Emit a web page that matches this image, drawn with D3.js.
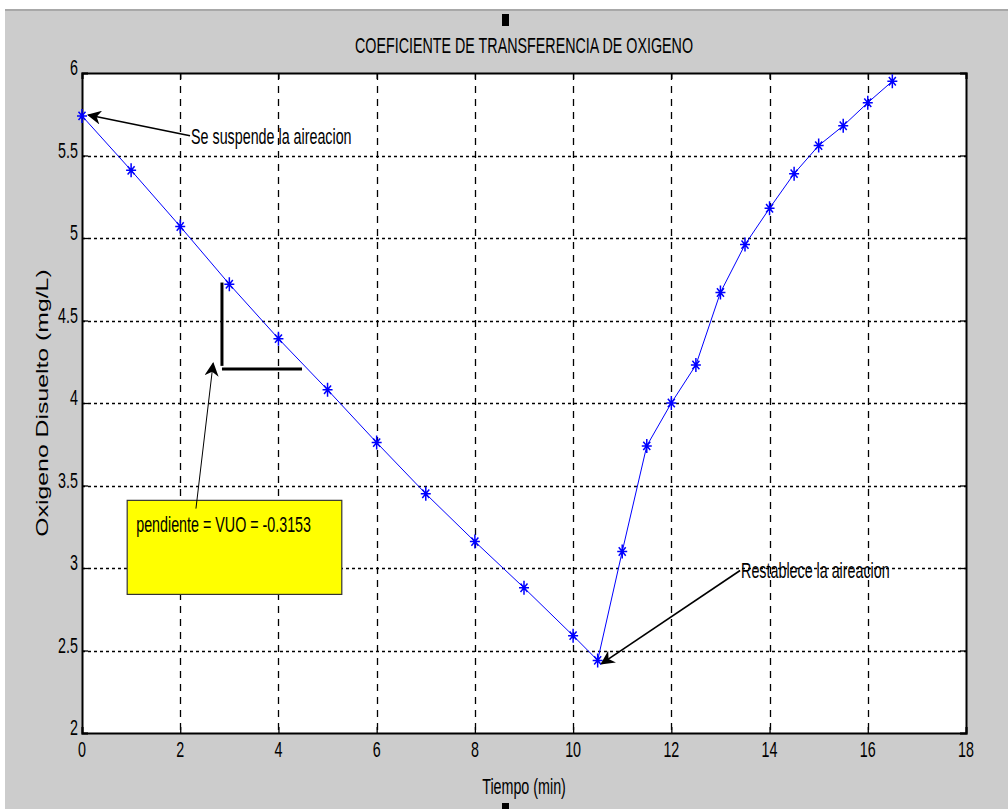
<!DOCTYPE html>
<html>
<head>
<meta charset="utf-8">
<script src="https://cdn.jsdelivr.net/npm/d3@7/dist/d3.min.js"></script>
<style>
body{
margin:0;
background:white;
}
text{
font-family:"Liberation Sans",Arial,sans-serif;
}
</style>
</head>
<body>
<div id="chart"></div>
<script>
// data
var tiempo = [0,1,2,3,4,5,6,7,8,9,10,10.5,11,11.5,12,12.5,13,13.5,14,14.5,15,15.5,16,16.5]
var oxigeno = [5.74,5.41,5.07,4.72,4.39,4.08,3.76,3.45,3.16,2.88,2.59,2.44,3.10,3.74,4.00,4.23,4.67,4.96,5.18,5.39,5.56,5.68,5.82,5.95]
var xTicks = [0,2,4,6,8,10,12,14,16,18]
var yTicks = [2,2.5,3,3.5,4,4.5,5,5.5,6]
var titleText = "COEFICIENTE DE TRANSFERENCIA DE OXIGENO"
var xLabel = "Tiempo (min)"
var yLabel = "Oxigeno Disuelto (mg/L)"
var slopeText = "pendiente = VUO = -0.3153"
// annotation arrows: from [x,y] to [x,y] in data units
var annotations = [
{text:"Se suspende la aireacion", from:[2.2,5.62], to:[0.13,5.745]},
{text:"Restablece la aireacion", from:[13.4,2.985], to:[10.58,2.42]}
]
var slopeArrow = {from:[2.32,3.36], to:[2.67,4.24]}
var triangle = {x0:2.85, x1:4.48, yTop:4.73, yBase:4.225}
var box = {x0:0.92, x1:5.29, y0:3.41, y1:2.84}

var W = 1008, H = 809
var blue = "#0000ff"
var fs = 22 // font size of the squeezed labels
var sq = 0.65 // horizontal squeeze

var svg = d3.select("#chart")
.append("svg")
.attr("width",W)
.attr("height",H)

// figure background
svg.append("rect").attr("x",0).attr("y",0).attr("width",W).attr("height",H).attr("fill","white")
svg.append("rect").attr("x",5).attr("y",9).attr("width",W-5).attr("height",2).attr("fill","#a8a8a8")
svg.append("rect").attr("x",5).attr("y",11).attr("width",W-5).attr("height",H-11).attr("fill","#cccccc")

var pLeft = 82, pRight = 966, pTop = 73, pBottom = 733

var x = d3.scaleLinear().domain([0,18]).range([pLeft,pRight])
var y = d3.scaleLinear().domain([2,6]).range([pBottom,pTop])

// squeezed text helper
function narrowText(px,py,str,anchor){
var g = svg.append("g").attr("transform","translate("+px+","+py+") scale("+sq+",1)")
g.append("text")
.attr("text-anchor",anchor||"start")
.attr("font-size",fs)
.attr("fill","#000")
.text(str)
return g
}

// plot area
svg.append("rect")
.attr("x",pLeft).attr("y",pTop)
.attr("width",pRight-pLeft).attr("height",pBottom-pTop)
.attr("fill","white")

// grid
svg.selectAll(".vgrid")
.data(xTicks.slice(1,-1))
.enter()
.append("line")
.attr("x1",function(d){return Math.round(x(d))+0.5})
.attr("x2",function(d){return Math.round(x(d))+0.5})
.attr("y1",pTop).attr("y2",pBottom)
.attr("stroke","#000")
.attr("stroke-width",1.3)
.attr("stroke-dasharray","7,6")

svg.selectAll(".hgrid")
.data(yTicks.slice(1,-1))
.enter()
.append("line")
.attr("y1",function(d){return Math.round(y(d))+0.5})
.attr("y2",function(d){return Math.round(y(d))+0.5})
.attr("x1",pLeft).attr("x2",pRight)
.attr("stroke","#000")
.attr("stroke-width",1.6)
.attr("stroke-dasharray","3,3")

// axes (labels drawn separately so they can be squeezed)
var xAxis = d3.axisBottom(x).tickValues(xTicks).tickSize(-6).tickFormat("")
var yAxis = d3.axisLeft(y).tickValues(yTicks).tickSize(-6).tickFormat("")
var xTop = d3.axisTop(x).tickValues(xTicks).tickSize(-6).tickFormat("")
var yRight = d3.axisRight(y).tickValues(yTicks).tickSize(-6).tickFormat("")

svg.append("g").attr("transform","translate(0,"+pBottom+")").call(xAxis)
svg.append("g").attr("transform","translate("+pLeft+",0)").call(yAxis)
svg.append("g").attr("transform","translate(0,"+pTop+")").call(xTop)
svg.append("g").attr("transform","translate("+pRight+",0)").call(yRight)

svg.selectAll(".domain").attr("stroke","#000").attr("stroke-width",2)
svg.selectAll(".tick line").attr("stroke","#000").attr("stroke-width",1.3)

xTicks.forEach(function(t){
narrowText(x(t),pBottom+24,d3.format("")(t),"middle")
})
yTicks.forEach(function(t){
narrowText(pLeft-4,y(t)+2,d3.format("")(t),"end")
})

// line + markers
var line = d3.line()
.x(function(d,i){return x(tiempo[i])})
.y(function(d){return y(d)})

svg.append("path")
.datum(oxigeno)
.attr("d",line)
.attr("fill","none")
.attr("stroke",blue)
.attr("stroke-width",1)

svg.selectAll(".pt")
.data(oxigeno)
.enter()
.append("path")
.attr("d",function(){
var sx = 5, sy = 7
return "M"+(-sx)+",0L"+sx+",0M0,"+(-sy)+"L0,"+sy+"M"+(-sx*0.7)+","+(-sy*0.6)+"L"+(sx*0.7)+","+(sy*0.6)+"M"+(-sx*0.7)+","+(sy*0.6)+"L"+(sx*0.7)+","+(-sy*0.6)
})
.attr("transform",function(d,i){return "translate("+x(tiempo[i])+","+y(d)+")"})
.attr("stroke",blue)
.attr("stroke-width",1.5)
.attr("fill","none")

// arrow head
svg.append("defs").append("marker")
.attr("id","head")
.attr("viewBox","0 0 10 10")
.attr("refX",9).attr("refY",5)
.attr("markerWidth",18).attr("markerHeight",14)
.attr("markerUnits","userSpaceOnUse")
.attr("orient","auto")
.append("path")
.attr("d","M0,0L10,5L0,10L3,5Z")
.attr("fill","#000")

annotations.forEach(function(a){
svg.append("line")
.attr("x1",x(a.from[0])).attr("y1",y(a.from[1]))
.attr("x2",x(a.to[0])).attr("y2",y(a.to[1]))
.attr("stroke","#000")
.attr("stroke-width",1.6)
.attr("marker-end","url(#head)")
narrowText(x(a.from[0])+1,y(a.from[1])+8,a.text,"start")
})

// slope triangle
svg.append("path")
.attr("d","M"+x(triangle.x0)+","+y(triangle.yTop)+"L"+x(triangle.x0)+","+y(triangle.yBase))
.attr("stroke","#000").attr("stroke-width",3).attr("fill","none")
svg.append("path")
.attr("d","M"+x(triangle.x0)+","+(y(triangle.yBase)+3)+"L"+x(triangle.x1)+","+(y(triangle.yBase)+3))
.attr("stroke","#000").attr("stroke-width",3).attr("fill","none")

// yellow box
svg.append("rect")
.attr("x",x(box.x0)).attr("y",y(box.y0))
.attr("width",x(box.x1)-x(box.x0)).attr("height",y(box.y1)-y(box.y0))
.attr("fill","#ffff00")
.attr("stroke","#333")
.attr("stroke-width",1.2)
narrowText(x(box.x0)+9,y(box.y0)+32,slopeText,"start")

svg.append("line")
.attr("x1",x(slopeArrow.from[0])).attr("y1",y(slopeArrow.from[1]))
.attr("x2",x(slopeArrow.to[0])).attr("y2",y(slopeArrow.to[1]))
.attr("stroke","#000")
.attr("stroke-width",1)
.attr("marker-end","url(#head)")

// titles
narrowText((pLeft+pRight)/2,53,titleText,"middle")
narrowText((pLeft+pRight)/2,794,xLabel,"middle")

svg.append("g")
.attr("transform","translate(48,"+((pTop+pBottom)/2)+") rotate(-90) scale(1.55,1)")
.append("text")
.attr("text-anchor","middle")
.attr("font-size",16)
.attr("fill","#000")
.text(yLabel)

// selection handles
svg.append("rect").attr("x",502).attr("y",14).attr("width",7).attr("height",12).attr("fill","#000")
svg.append("rect").attr("x",502).attr("y",803).attr("width",7).attr("height",6).attr("fill","#000")
</script>
</body>
</html>
